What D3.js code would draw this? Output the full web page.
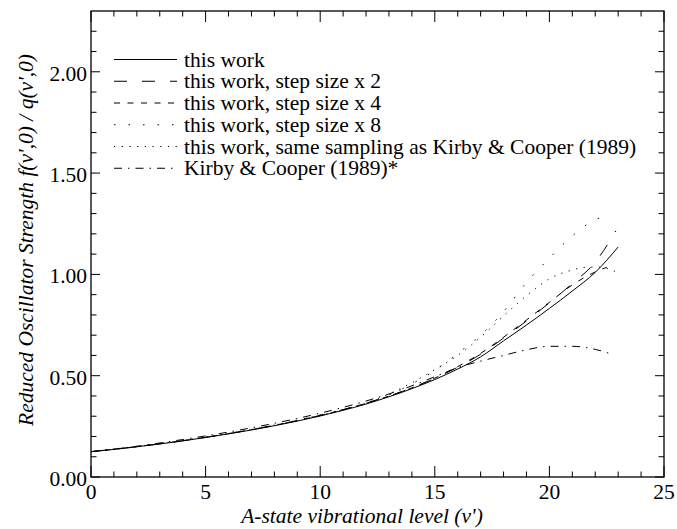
<!DOCTYPE html>
<html><head><meta charset="utf-8">
<script src="https://cdn.jsdelivr.net/npm/d3@7/dist/d3.min.js"></script>
<style>body{margin:0;background:#fff}svg{display:block}</style>
</head><body><svg id="c" width="677" height="529" font-family="'Liberation Serif', 'Times New Roman', Times, serif"></svg>
<script>
// ---- data ----
const solidV = [0,1,2,3,4,5,6,7,8,9,10,11,12,13,14,15,16,17,18,19,20,21,22,23];
const solidF = [0.125,0.136,0.149,0.163,0.178,0.195,0.213,0.232,0.253,0.276,0.301,0.329,0.360,0.396,0.436,0.481,0.533,0.593,0.672,0.750,0.832,0.918,1.010,1.135];

const step2V = [0,2,4,6,8,10,12,14,15,16,17,18,19,20,21,22,22.9];
const step2F = [0.125,0.150,0.179,0.214,0.255,0.304,0.364,0.440,0.487,0.542,0.606,0.686,0.770,0.860,0.955,1.060,1.215];

const step4V = [0,2,4,6,8,10,12,14,15,16,17,18,19,20,21,22,22.5];
const step4F = [0.125,0.150,0.179,0.214,0.255,0.304,0.364,0.440,0.488,0.545,0.610,0.690,0.775,0.862,0.948,1.012,1.035];

const step8V = [0,2,4,6,8,10,11,12,13,14,15,16,17,18,19,20,21,22,22.7];
const step8F = [0.125,0.150,0.180,0.215,0.256,0.306,0.332,0.363,0.405,0.460,0.525,0.610,0.700,0.816,0.960,1.080,1.190,1.270,1.293];

const sameV = [0,2,4,6,8,10,11,12,13,14,15,16,17,18,19,20,21,21.6,22.2,22.9];
const sameF = [0.125,0.150,0.180,0.215,0.256,0.306,0.333,0.365,0.410,0.465,0.530,0.600,0.690,0.795,0.895,0.978,1.022,1.035,1.036,1.013];

const kirbyV = [0,2,4,6,8,10,12,13,14,15,16,17,18,19,20,21,22,22.7];
const kirbyF = [0.125,0.152,0.185,0.222,0.265,0.315,0.375,0.410,0.450,0.495,0.540,0.572,0.600,0.628,0.645,0.645,0.630,0.607];

const legendLabels = ["this work","this work, step size x 2","this work, step size x 4","this work, step size x 8","this work, same sampling as Kirby & Cooper (1989)","Kirby & Cooper (1989)*"];
const xMajorTicks = [0,5,10,15,20,25];
const yMajorTicks = [0,0.5,1.0,1.5,2.0];
const xTitle = "A-state vibrational level (v')";
const yTitle = "Reduced Oscillator Strength f(v',0) / q(v',0)";

// ---- layout ----
const svg = d3.select("#c");
const L = 91, R = 664, T = 11, B = 477;
const FS = 21.5;
const x = d3.scaleLinear().domain([0,25]).range([L,R]);
const y = d3.scaleLinear().domain([0,2.3]).range([B,T]);

const series = [
  {v:solidV, f:solidF, dash:null},
  {v:step2V, f:step2F, dash:"13,15"},
  {v:step4V, f:step4F, dash:"6,7.5"},
  {v:step8V, f:step8F, dash:"1.5,13"},
  {v:sameV,  f:sameF,  dash:"1.2,6.5"},
  {v:kirbyV, f:kirbyF, dash:"8,6,1.5,6"}
];

const line = d3.line().x(d=>x(d[0])).y(d=>y(d[1])).curve(d3.curveMonotoneX);
const g = svg.append("g");
series.forEach(s=>{
  g.append("path").attr("d", line(s.v.map((v,i)=>[v,s.f[i]])))
    .attr("fill","none").attr("stroke","#000").attr("stroke-width",1)
    .attr("stroke-dasharray", s.dash);
});

// axes (ticks inward on all four sides)
const xMinor = d3.range(0,26,1);
const yMinor = d3.range(0,23,1).map(d=>d/10);
const ax = svg.append("g").attr("stroke","#000").attr("stroke-width",1);
ax.append("rect").attr("x",L).attr("y",T).attr("width",R-L).attr("height",B-T).attr("fill","none").attr("stroke-width",1.3);
xMinor.forEach(v=>{
  const major = v%5===0; const len = major?11:5.5;
  ax.append("line").attr("x1",x(v)).attr("x2",x(v)).attr("y1",B).attr("y2",B-len);
  ax.append("line").attr("x1",x(v)).attr("x2",x(v)).attr("y1",T).attr("y2",T+len);
});
yMinor.forEach(f=>{
  const major = Math.abs(f*2-Math.round(f*2))<1e-6; const len = major?9:5.5;
  ax.append("line").attr("x1",L).attr("x2",L+len).attr("y1",y(f)).attr("y2",y(f));
  ax.append("line").attr("x1",R).attr("x2",R-len).attr("y1",y(f)).attr("y2",y(f));
});
svg.append("g").selectAll("text").data(xMajorTicks).join("text")
  .attr("x",d=>x(d)).attr("y",B+22).attr("text-anchor","middle").attr("font-size",FS).text(d=>d);
svg.append("g").selectAll("text").data(yMajorTicks).join("text")
  .attr("x",L-4).attr("y",d=>y(d)+9).attr("text-anchor","end").attr("font-size",FS).text(d=>d.toFixed(2));

svg.append("text").attr("x",362).attr("y",523).attr("text-anchor","middle")
  .attr("font-size",FS).attr("font-style","italic").text(xTitle);
svg.append("text").attr("transform",`translate(33,240) rotate(-90)`).attr("text-anchor","middle")
  .attr("font-size",FS).attr("font-style","italic").text(yTitle);

// legend
const lg = svg.append("g");
legendLabels.forEach((lab,i)=>{
  const yy = 59.5 + i*21.75;
  lg.append("line").attr("x1",114).attr("x2",177).attr("y1",yy).attr("y2",yy)
    .attr("stroke","#000").attr("stroke-width",1).attr("stroke-dasharray",series[i].dash);
  lg.append("text").attr("x",184).attr("y",yy+7).attr("font-size",FS).text(lab);
});
</script></body></html>
